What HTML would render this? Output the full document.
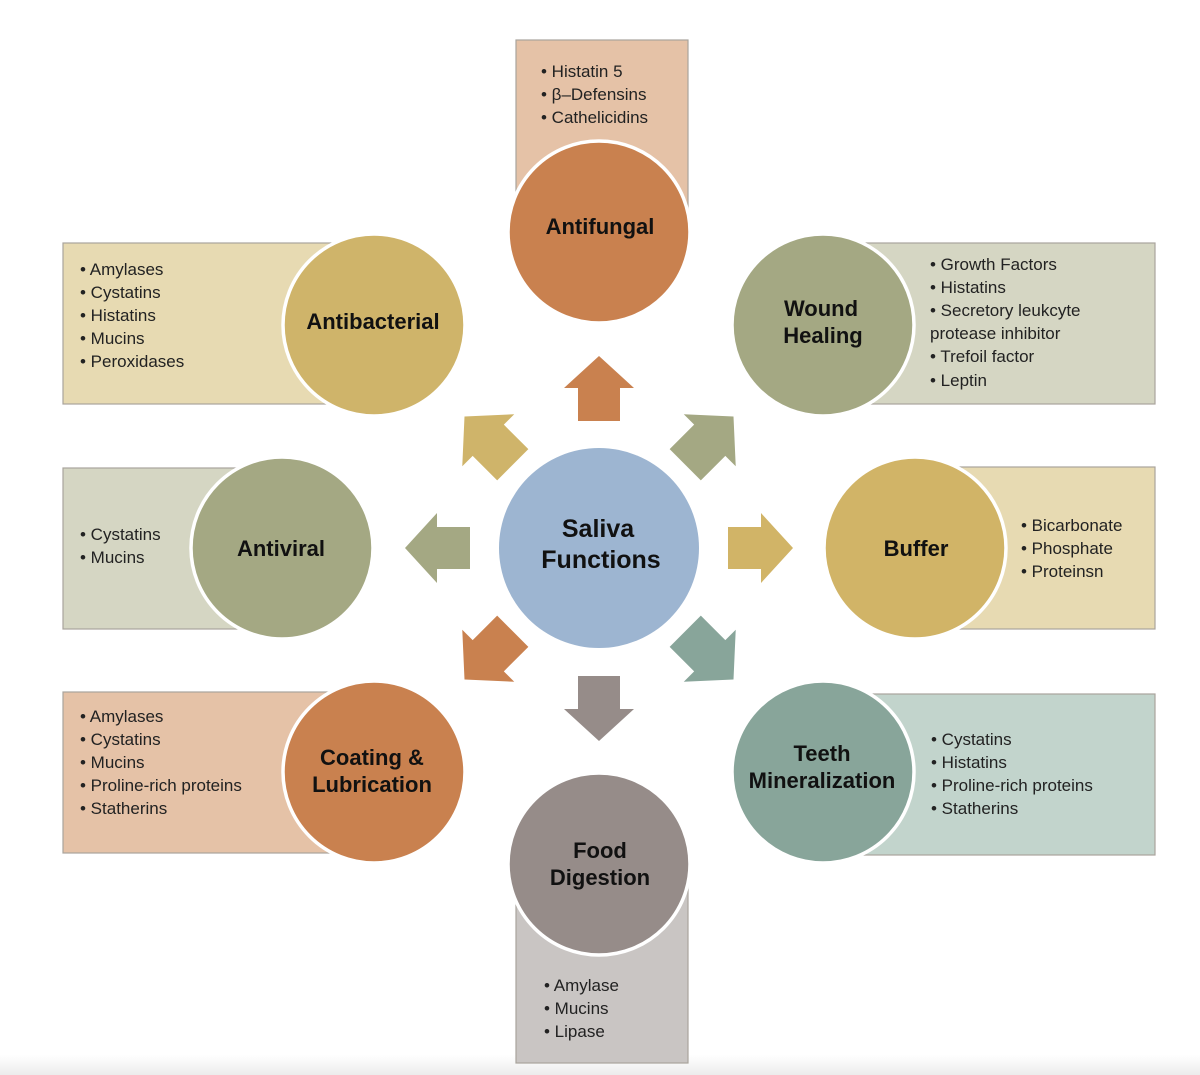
<!DOCTYPE html>
<html><head><meta charset="utf-8"><style>
html,body{margin:0;padding:0;background:#fff}
svg{display:block}
text{font-family:"Liberation Sans",Arial,sans-serif}
.l{font-size:17px;fill:#222}
.t{font-size:22px;font-weight:bold;fill:#111;text-anchor:middle}
</style></head><body>
<svg width="1200" height="1075" viewBox="0 0 1200 1075" xmlns="http://www.w3.org/2000/svg">
<defs>
<linearGradient id="bg" x1="0" y1="0" x2="0" y2="1"><stop offset="0" stop-color="#fff"/><stop offset="1" stop-color="#ececec"/></linearGradient>
<polygon id="ar" points="0,-33 -35,-1 -21,-1 -21,32 21,32 21,-1 35,-1"/>
</defs>
<rect x="0" y="1055" width="1200" height="20" fill="url(#bg)"/>
<!-- boxes -->
<g stroke="#a9a49c" stroke-width="1.2">
<rect x="516" y="40" width="172" height="170" fill="#e5c2a7"/>
<rect x="63" y="243" width="310" height="161" fill="#e7dab2"/>
<rect x="823" y="243" width="332" height="161" fill="#d5d6c3"/>
<rect x="63" y="468" width="220" height="161" fill="#d5d6c3"/>
<rect x="915" y="467" width="240" height="162" fill="#e7dab2"/>
<rect x="63" y="692" width="310" height="161" fill="#e5c2a7"/>
<rect x="823" y="694" width="332" height="161" fill="#c2d4cc"/>
<rect x="516" y="880" width="172" height="183" fill="#c9c5c3"/>
</g>
<!-- circles -->
<g stroke="#fff" stroke-width="3.5">
<circle cx="599" cy="232" r="91" fill="#c9814f"/>
<circle cx="374" cy="325" r="91" fill="#cfb46a"/>
<circle cx="823" cy="325" r="91" fill="#a4a883"/>
<circle cx="282" cy="548" r="91" fill="#a4a883"/>
<circle cx="915" cy="548" r="91" fill="#d1b467"/>
<circle cx="374" cy="772" r="91" fill="#c9814f"/>
<circle cx="823" cy="772" r="91" fill="#88a59a"/>
<circle cx="599" cy="864" r="91" fill="#968c89"/>
</g>
<circle cx="599" cy="548" r="100" fill="#9db5d1"/>
<!-- arrows -->
<use href="#ar" transform="translate(599,389)" fill="#c9814f"/>
<use href="#ar" transform="translate(599,708) rotate(180)" fill="#968c89"/>
<use href="#ar" transform="translate(438,548) rotate(-90)" fill="#a4a883"/>
<use href="#ar" transform="translate(760,548) rotate(90)" fill="#d1b467"/>
<use href="#ar" transform="translate(489,441) rotate(-45) scale(1.05)" fill="#cfb46a"/>
<use href="#ar" transform="translate(709,441) rotate(45) scale(1.05)" fill="#a4a883"/>
<use href="#ar" transform="translate(489,655) rotate(-135) scale(1.05)" fill="#c9814f"/>
<use href="#ar" transform="translate(709,655) rotate(135) scale(1.05)" fill="#88a59a"/>
<!-- titles -->
<text class="t" x="600" y="234">Antifungal</text>
<text class="t" x="373" y="329">Antibacterial</text>
<text class="t" x="821" y="316">Wound</text>
<text class="t" x="823" y="343">Healing</text>
<text class="t" x="281" y="556">Antiviral</text>
<text class="t" x="916" y="556">Buffer</text>
<text class="t" x="372" y="765">Coating &amp;</text>
<text class="t" x="372" y="792">Lubrication</text>
<text class="t" x="822" y="761">Teeth</text>
<text class="t" x="822" y="788">Mineralization</text>
<text class="t" x="600" y="858">Food</text>
<text class="t" x="600" y="885">Digestion</text>
<text class="t" x="598" y="537" style="font-size:25px">Saliva</text>
<text class="t" x="601" y="568" style="font-size:25px">Functions</text>
<!-- lists -->
<g class="l">
<text class="l" x="541" y="77">• Histatin 5</text>
<text class="l" x="541" y="100">• β–Defensins</text>
<text class="l" x="541" y="123">• Cathelicidins</text>
<text class="l" x="80" y="275">• Amylases</text>
<text class="l" x="80" y="298">• Cystatins</text>
<text class="l" x="80" y="321">• Histatins</text>
<text class="l" x="80" y="344">• Mucins</text>
<text class="l" x="80" y="367">• Peroxidases</text>
<text class="l" x="930" y="270">• Growth Factors</text>
<text class="l" x="930" y="293">• Histatins</text>
<text class="l" x="930" y="316">• Secretory leukcyte</text>
<text class="l" x="930" y="339">protease inhibitor</text>
<text class="l" x="930" y="362">• Trefoil factor</text>
<text class="l" x="930" y="386">• Leptin</text>
<text class="l" x="80" y="540">• Cystatins</text>
<text class="l" x="80" y="563">• Mucins</text>
<text class="l" x="1021" y="531">• Bicarbonate</text>
<text class="l" x="1021" y="554">• Phosphate</text>
<text class="l" x="1021" y="577">• Proteinsn</text>
<text class="l" x="80" y="722">• Amylases</text>
<text class="l" x="80" y="745">• Cystatins</text>
<text class="l" x="80" y="768">• Mucins</text>
<text class="l" x="80" y="791">• Proline-rich proteins</text>
<text class="l" x="80" y="814">• Statherins</text>
<text class="l" x="931" y="745">• Cystatins</text>
<text class="l" x="931" y="768">• Histatins</text>
<text class="l" x="931" y="791">• Proline-rich proteins</text>
<text class="l" x="931" y="814">• Statherins</text>
<text class="l" x="544" y="991">• Amylase</text>
<text class="l" x="544" y="1014">• Mucins</text>
<text class="l" x="544" y="1037">• Lipase</text>
</g>
</svg>
</body></html>
